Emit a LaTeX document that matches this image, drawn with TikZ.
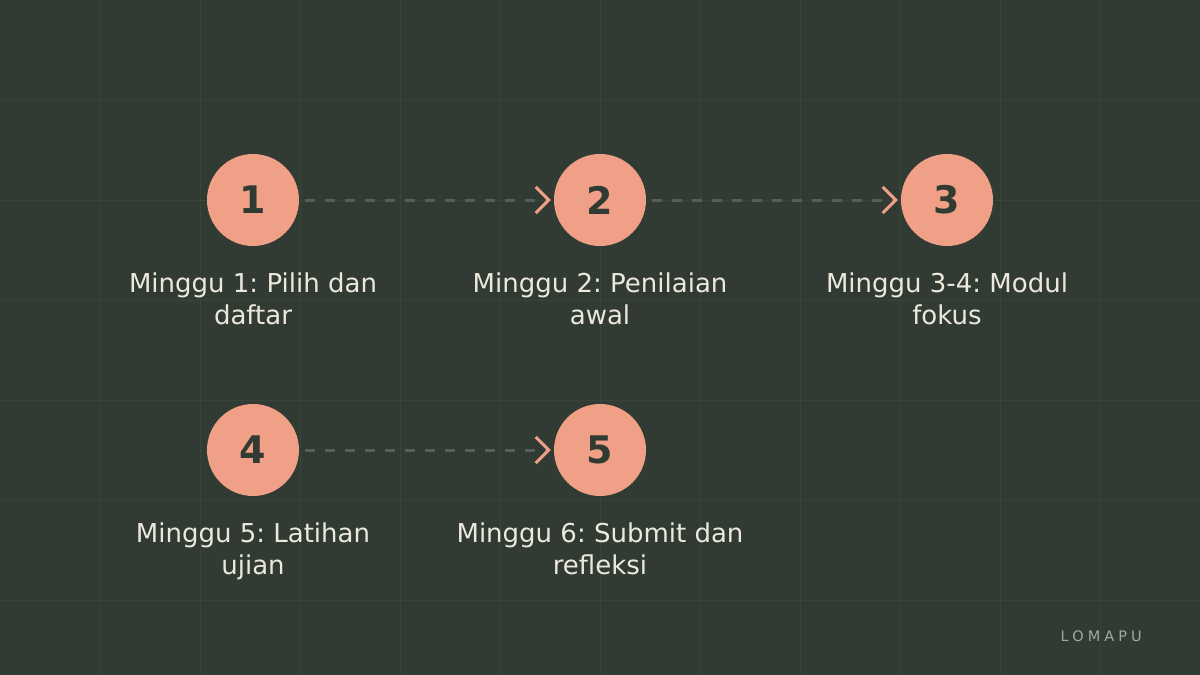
\documentclass[tikz,border=0pt]{standalone}
\usepackage{fontspec}
\setmainfont{DejaVu Sans}
\usetikzlibrary{arrows.meta}
\definecolor{bg}{HTML}{313B33}
\definecolor{gridc}{HTML}{384339}
\definecolor{salmon}{HTML}{EFA086}
\definecolor{dashc}{HTML}{536058}
\definecolor{txt}{HTML}{ECE9DC}
\definecolor{brand}{HTML}{A0AAA2}
\tikzset{
  stepcircle/.style={circle, fill=salmon, minimum size=92pt, inner sep=0pt, text=bg, font=\bfseries\fontsize{38}{38}\selectfont},
  steplabel/.style={text=txt, align=center, font=\fontsize{26}{32}\selectfont, anchor=north, inner sep=0pt},
  flow/.style={draw=dashc, line width=3pt, dash pattern=on 10pt off 10pt, shorten <=6pt, shorten >=3pt,
    -{Straight Barb[length=13pt, width=26pt, line width=3pt, color=salmon]}},
}
\begin{document}
\frenchspacing
\begin{tikzpicture}[x=1pt,y=-1pt]
\fill[bg] (0,0) rectangle (1200,675);
\useasboundingbox (0,0) rectangle (1200,675);
\foreach \gx in {100,200,...,1100} \draw[gridc, line width=1pt] (\gx,0) -- (\gx,675);
\foreach \gy in {100,200,...,600} \draw[gridc, line width=1pt] (0,\gy) -- (1200,\gy);
\node[stepcircle] (c1) at (253,200) {1};
\node[stepcircle] (c2) at (600,200) {2};
\node[stepcircle] (c3) at (947,200) {3};
\node[stepcircle] (c4) at (253,450) {4};
\node[stepcircle] (c5) at (600,450) {5};
\draw[flow] (c1) -- (c2);
\draw[flow] (c2) -- (c3);
\draw[flow] (c4) -- (c5);
\node[steplabel] (l1) at (253,273) {Minggu 1: Pilih dan\\daftar};
\node[steplabel] (l2) at (600,273) {Minggu 2: Penilaian\\awal};
\node[steplabel] (l3) at (947,273) {Minggu 3-4: Modul\\fokus};
\node[steplabel] (l4) at (253,523) {Minggu 5: Latihan\\ujian};
\node[steplabel] (l5) at (600,523) {Minggu 6: Submit dan\\refleksi};
\node[anchor=base east, inner sep=0pt, text=brand, font=\fontsize{14.5}{14.5}\selectfont\addfontfeature{LetterSpace=28}] (brand) at (1142,641) {LOMAPU};
\end{tikzpicture}
\end{document}
